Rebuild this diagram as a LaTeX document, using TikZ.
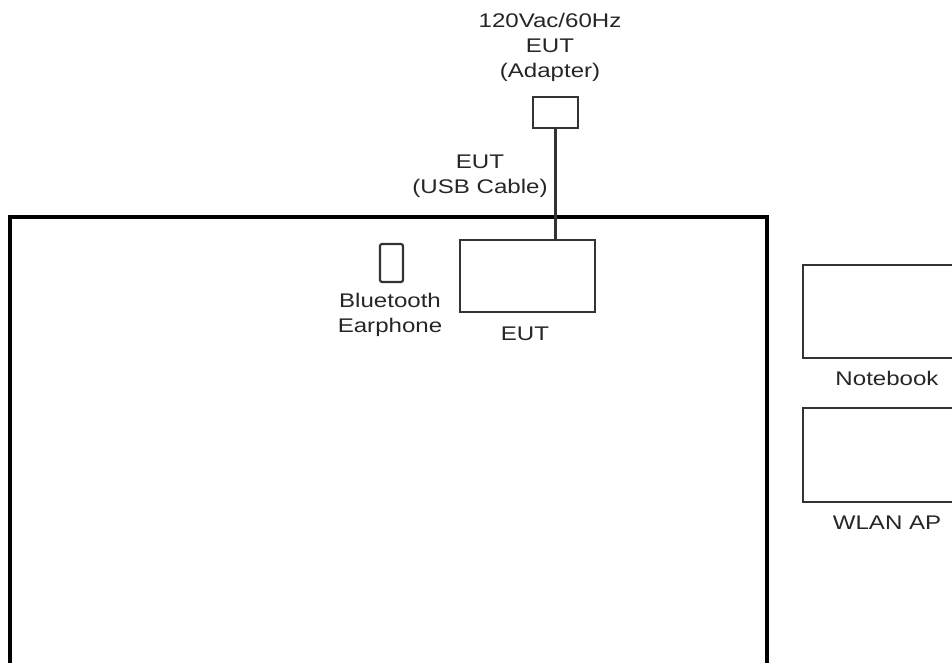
\documentclass[tikz,border=0pt]{standalone}
\usepackage{fontspec}
\setmainfont{Liberation Sans}[FakeStretch=1.22]
\begin{document}
\begin{tikzpicture}[x=0.75pt,y=-0.75pt,
  dev/.style={draw=black!80,line width=1.6pt,minimum width=#1,inner sep=0pt},
  lbl/.style={font=\fontsize{14.8}{18.75}\selectfont,text=black!85,align=center,inner sep=0pt},
  wire/.style={draw=black!80,line width=1.6pt}]
\useasboundingbox (0,0) rectangle (952,663);
% room
\draw[line width=3pt,black] (10,670) -- (10,217) -- (767,217) -- (767,670);
% devices
\node[dev=45*0.75pt,minimum height=31*0.75pt] (adapter) at (555.5,112.5) {};
\node[dev=135*0.75pt,minimum height=72*0.75pt] (eut) at (527.5,276) {};
\node[dev=23*0.75pt,minimum height=38*0.75pt,rounded corners=1.5pt] (bt) at (391.5,263) {};
\node[dev=168*0.75pt,minimum height=93*0.75pt] (nb) at (887,311.5) {};
\node[dev=168*0.75pt,minimum height=94*0.75pt] (ap) at (887,455) {};
% labels
\node[lbl] (adlbl) at (550,47) {120Vac/60Hz\\EUT\\(Adapter)};
\node[lbl] (usblbl) at (480,176.5) {EUT\\(USB Cable)};
\node[lbl] (btlbl) at (390,314.5) {Bluetooth\\Earphone};
\node[lbl] (eutlbl) at (525,334) {EUT};
\node[lbl] (nblbl) at (887,378) {Notebook};
\node[lbl] (aplbl) at (887,523) {WLAN AP};
% cable
\draw[wire] (adapter.south) -- (adapter.south |- eut.north);
\end{tikzpicture}
\end{document}
